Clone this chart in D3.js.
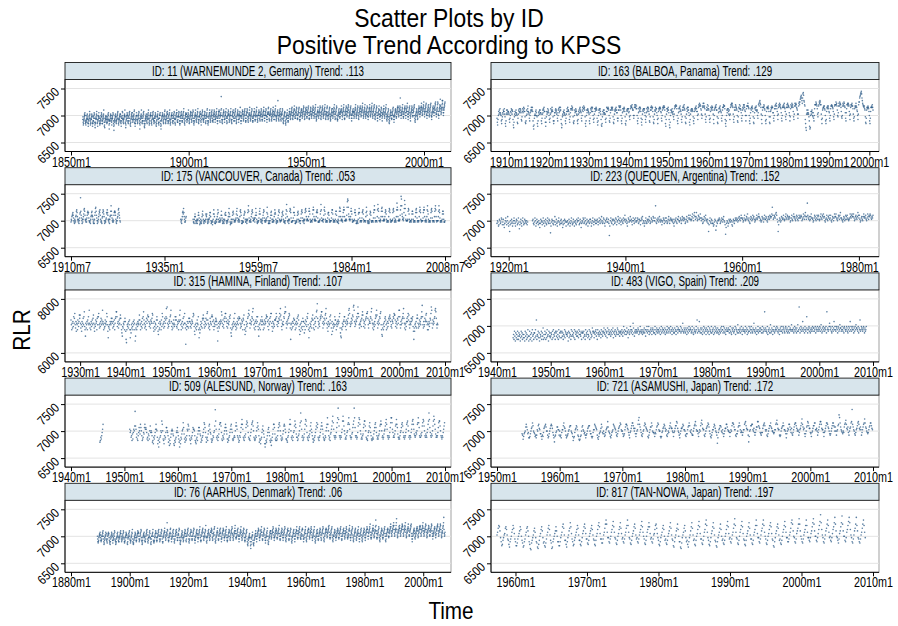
<!DOCTYPE html>
<html><head><meta charset="utf-8">
<script src="https://cdn.jsdelivr.net/npm/d3@7"></script>
<style>body{margin:0;background:#fff}</style>
</head><body><svg id="c" width="898" height="626"></svg>
<script>
// ---------------- DATA ----------------
const panelTitles = [
  "ID: 11 (WARNEMUNDE 2, Germany) Trend: .113",
  "ID: 163 (BALBOA, Panama) Trend: .129",
  "ID: 175 (VANCOUVER, Canada) Trend: .053",
  "ID: 223 (QUEQUEN, Argentina) Trend: .152",
  "ID: 315 (HAMINA, Finland) Trend: .107",
  "ID: 483 (VIGO, Spain) Trend: .209",
  "ID: 509 (ALESUND, Norway) Trend: .163",
  "ID: 721 (ASAMUSHI, Japan) Trend: .172",
  "ID: 76 (AARHUS, Denmark) Trend: .06",
  "ID: 817 (TAN-NOWA, Japan) Trend: .197"
];
const panelXTicks = [
  ["1850m1","1900m1","1950m1","2000m1"],
  ["1910m1","1920m1","1930m1","1940m1","1950m1","1960m1","1970m1","1980m1","1990m1","2000m1"],
  ["1910m7","1935m1","1959m7","1984m1","2008m7"],
  ["1920m1","1940m1","1960m1","1980m1"],
  ["1930m1","1940m1","1950m1","1960m1","1970m1","1980m1","1990m1","2000m1","2010m1"],
  ["1940m1","1950m1","1960m1","1970m1","1980m1","1990m1","2000m1","2010m1"],
  ["1940m1","1950m1","1960m1","1970m1","1980m1","1990m1","2000m1","2010m1"],
  ["1950m1","1960m1","1970m1","1980m1","1990m1","2000m1","2010m1"],
  ["1880m1","1900m1","1920m1","1940m1","1960m1","1980m1","2000m1"],
  ["1960m1","1970m1","1980m1","1990m1","2000m1","2010m1"]
];
const panelYTicks = [
  [6500,7000,7500],[6500,7000,7500],[6500,7000,7500],[6500,7000,7500],
  [6000,8000],[6500,7000,7500],[6500,7000,7500],[6500,7000,7500],
  [6500,7000,7500],[6500,7000,7500]
];
// monthly RLR values, one character per month: value = base + index(char)*step ('.' = missing)
const panelEncoding = [
  [6600,25],[6600,25],[6600,25],[6600,25],[6140,60],
  [6540,30],[6525,30],[6600,25],[6600,25],[6600,25]
];
const warnemunde = [[1855,1,"dfb9acdefhgi gcab9bdcegfh edba8acdfegj hec9abdedfhg fa8baccfegih eb97abedfehj gdab8cdfgeif cea9bacedgfi hfcaacedgfhk eb897bcedfge fdbacbdfehgi dc96acdcfehg gecb9defegih ca859bcdegfh fcbacdfeghij eda9bcedfghf hcba8cefegji debcadegfhgk fba79cdegfih gecbacfegihj ec9a8bdfehgi ifdbcdegfhjk dba8acedfgig gdcabdfehgji eca69bdfeghk febaccegfihj ca879acedfge hfcbadefhgik edb9acegfhgi gcab9dfegihj decabcefegih fb98acdfgfhj edab9beeghgi ca869cdfegih gfcbadfehgjk fdbacdegfihj hecabcfgehik dca9bdefghgi gebcacfehgji edba9degfhik ifcbbdfgfhji fca9acefgihj gecbcefhgijl edba9cegfhih hfdbcdfegihk fecabdegfhji igdbcefhgikj eca9bcefghik gfdcbegfhjil fdbacdfgfihj hecb9dfhgikj egdcbdegfhji gebacefghikl fca9bcfeghik ifdbcegfhjik geccbdfhgikj hfdbdegfihjl fecacefghjik jgecbfhgikul gdbcadfghikj ifdbdeghgjil fecabefgihkj hgdbcfehgijl gdcbadgfhjik ifecceghikjl fecabdfghikj hgdbdfehgjim gfcacegfihkj jhecdfghikjl gecbcehgijlk ifdcbefhgikm hgecdfgihjlk fecbcegfhjil jgdcdfhgikjm gfdbceghgikj igedcfhgijlk hfdcdfgihjkm jgeceghgjilk gfdbdfhihjlm ihedcgghjikl hfdcefhgikjm jhfddgihjkln gfdcefgihjkr igedcfhgikjl hfdceghihjlk edbacefghiji fca9bdfeghik gecbcegfhjil jhfdeghijlkm igedfgihjkln khfeegijikml hgedeghjiklm ifdcdfhgijkl kigefhijklnm jhfdegihjlkm kifefhjikmln igedegihjkml jhfeghjiklnm kigefihjlkmo hfecdfhgijkm jifeghikjlnm igedfhjikmln khfegihjlkmo jhedfgihjlmn igfdeghjiklm hfecdfhgikjl ligefhjikmlo jhfdehikjlnm gedcdfhgikjl ihfefhijkjln kigdfihjlkmo jgedegihkjln mjhfgijlkmon kifeghjikmln hgeceghjikjl jigefhjiklmo khfegihjlknm igedfhikjlmn ljhfgikjlnmp kigefhjikmlo jhfegihkjlnm igfdfhjilkmo ljgfhjikmlnp jhfegikjlnmo hgedfhjiklnm igecegihjlkn khfdfhgjikml igecfhihkjln ligefhjikmlo hfdcegfihjlk fdbacefhgikj igedegihjlkm gfdbdfhgikjl kifefhjikmln mjhfgikjlnmt kigeghjikmlo jhfefihjlkmn ligegikjlnmp jhfdfhjikmln igecfhijklnm kigfgikjlnmo gecbdfhgijlk igfdehjiklnm ljhfhjikmlnp mkighjlkmonq ljhfikjlnmop jhgegikjlnmo kigfhjlkmonp igfdfhjikmln ljigikmlnpoq kihfhjlkmoqp jhgegjlkmons nljhikmlorpr mkigilkmonpq"]];
const balboa = [[1907,1,"eb9dgjhkilih gcadfihkjjlh fa8chkikhjji hdbegjilkhkj d97bfhjgikih gbaehkjlijlk idcfjlikmjlj fbacgkhjlnji hecgikjmkkmj c869eghgjkig fa8cgijhkkii hcaehkilkmjj eb8bfjhiljki gdbehlikjmkj fcacgiikljkh iecgklimjkmk da79fhgjikih gcaehjljmkkj hdbfilklnlmk fbacgkijlkjh gcadhjkilmkj iecgkmjlnlmk fa8cgkiklkji hcaeilkmjlmj gdbehljlkmlk eb9cgkilkljh d98afjhkikih hdbejmjllmlk gcbeikkmllmk fbadhkjlkmki ieceknkmnmnk gcaeiljlkmlj fa9chkjlklli jfdglnmnmolk kgegmonmolnl gcaeiljmkmlj eb9dhkjllkli gdbfiljmkmlj hcbfkmknmlmj fbadhkjmklli gdaejlkmlmlj iecgkmlnmnmk fa8dhljlkmki d97bgkikjlih jfdhlnmnonnl gcaeiljmlnkj hdbfkmknmolk fbaehljmkmki gb9dhkjlklkj fcaejlkmlnlj jgdhmonpnonl khegnmpnpmnl hdbfkmkolnlk gdbejmklnmmk hdagklmnmokk fbaeiljmlnkj iecgkmmonnnl da8cgkilkljh kgdhmonpopnm hdbfkmkonmlk gcbfjmlolnlk iecgkmlonomk jgcglnnnpnml gcaeilkmmnlj fbaeilmkmnkj kgeiopnqrpom hdagkmmmonlk gcadjmlmmnlj fbafjkmlnmmi iecglnlonpnl jgdhmonpnoml iecgmnmonpml jfdhmomponnm igcflonmpnom jfdhnpnopoml khehnpqoqstu vtrptwxvrqon da75hkihkihf c867gjhjkigf iecgloooqpon lhfinoqprqoo hdaeklmmnnlk gcadjmlnmnlj iecglnnonnml jfdhnoooqopn kgfinpnqopom jfegnponqpnm ieciloopnpon jgdhmonopnnl hecflnmnpnmk jgdhoqqtuvwx ywtrponnmnlk fbaekmlmnmlj gcaejmmnmomk"]];
const vancouver = [
  [1910,7,"fhgjkl mkigfehgfjkn omjhgfhegilm xnkigehfhjlo pnkhgfhfikmn lmigffgehjkm nkjhfegehkmp qnkigegfhjln mokhfgfeijmo nljgefgfhiml omkhgfhehjkn rnkigfhfgkmn nmkhfeggijlo pmkigf"],
  [1939,4,"hfgehjmnlpmjhffgij"],
  [1942,7,"hffehj ljgefgheghkm kigdefhfegjl nkhfegggfhlk jlhfeghfhikm mjgeffgdfhlo ljfeegfhfhjl omhffgifghkn kigefhfeghlk mkgfeggfhjmp ljfdefhefhkm nlhfggfghiln pkigfhhgfjno mkgeefgffikl nmhffgheghmo rnifggfhfjln omigghhifikp mkhfefgfgiln plhfgfhegikm onigfgfhgimq ljgeefgegikm nkhffhgfgjlo mlhfegfgfikn omhgfggghjml nkhfgffegilo snjgfgheghnp omifffgggimq mkgeeffgfhkm nlhfgggegiln omigfgheghmo pnjghhhggjnp nlhffgggfhlo qojhgghggjmn omifffgfghln soiggghfhkoq nlhfgfggfilm mkhfgfgggimo olhfgfggfhln nkgfffhegjnq pnjghghgfjmo qojgghgghkqu wvqljhhghjnp nlhffgggghmo mkgeefgfehlm pmifgggfgimn olhfggggfjmq nkgfefgefhln mkgffgggfimo roifggggfjos pnigggfhgjnp qnjgghgghjmo nlhfgfggfjnp omhfgfggghmo pnifgfhgfjot qojgghgghkor ywrljhhgimpv spkhggggghnp olhffgggfhln nlhfgfggfjmo pmifgggfgjnq omhgfggggimo qojgfghgfjor nlhfgfggfimo pnigfgggfjnp rojgfggggjnr omifgfggfhln nlhfffg"]
];
const quequen = [
  [1918,1,"egfcdhgefihd fhdbegifdgje cf8dgehfcegi gecfhgdeifad fhecgifdehgf egdf"],
  [1924,2,"ghedfigcehf fdgebehfgdfi egcfhedgifeh ge7cfhgedgfj dfhecfgifdeg hefbdgehgfcf fgdehfcegifd ehfcfgedhfgi gdehfbegfihe figdehfcgfeh hfcegifdfhge eghfdfigehfj gefihecgfhif fhe5cgifehgd hgefihdfgjhe gifdghfeighk fhgecfihfgjg hfdgigehfigf gihefhgdgihj egfcegifehgf hjgefihfgjig girfehgifhjg fhgdfgihegif igefhjgehigh gfhecfhgifeh hjgfgihegjhi gihefhjgfikh ikhghjligkmj hjmighkjhili gihefhjgikhg fhe8dgifehge ecdfhg9cfegh gihefgihfhjg fd6begfcehgf hfgdcfhgegih gihfgijhgiki ihfgikhghjil hgifehjighki jhfghikhijlj ighfgjihfikh hjigfhjihkji jlqkhikjilmk hf8dgihfgjih ikhghjlihkji hjifgikhgjli jhgikjhgikij ikjghiljhkmj hjtkihjghjli ihfgikjhgikh jkhghjlihkjl ijgfhikhgjik hikgfhjigilj jlihgikjhkmi ihgfhjighkjh kihghiljiklj jlighjkihjmk ikhfgijhgjli jikhgiljhkjl kihjik"]
];
const hamina = [[1928,1,"ifcgdhekgjmf dhbgfcigehlj lgdfbhegjfkn ec8gdfhcigkf ogdfchegifjl gdbfeighcjfk kmfdgehjfigo hfcgdeigfhmk fb7edfchgfjh jgdheficgjkn nkeghdfigjlj fca8edgfhcjh b64cfegdhfic 7cafdgechfig c58dfcgehfgi lifcgehdjfkn igdfehcjgilk khegfdihgjml gdbhecgfdiki eb9gcdhfgcie mkfgdhejgikp jqgdfehigklo hecgdfigefki kiedfhgcihlo ifcgehdjfkgm gd3fcehegdjh jhegdfihgkml eb9fdgceigfk c7dacfhegdji ljfdhegjfimn igdfecjhgfkl kheicgefhjih fd5bgedhfgih nlgeifdjhkmm jhegdigfhkjl da8cfdgehjfm gecfdhgjfikj jgdfeighcjil fc9dbhfegjkm olgdigfhkjnp ifdgcheigkhk ec8fdgcihfki hfcgdifhgjlk kheicgfjhkmm gebhdgfeiiij mkfhehgjimkp liecgfhfkjmn qngdhfigjkml gd6fcgdhegji ifcgdhfjgkli ec9fbgdhecjh heagcifhekjm fc7dbgefhdji lidfcjghekno sjdhfgeikjln nkgdhfjgilmp jgdfbhegfkil gd9hbfdgefki ifcgehfighkm da87dcgefhik khegcifhgjlo pmgefhjgilkq rohegfihkjmq mkfdgfhiejln lieghdfijkmm njfdighgkjnp igdfcgehfjlk olgdhfigkjmn fc98dfcgehjk ifcgdhegjikl jhefdihgkjml lieghdfjigko okfdhfigjkmp jgdfcgehjhkm ilfdhgfjhjik eb6dbfgehdjl jgdfeighfjkn rkfdhefjhilm hfcgcfhegjim qogdifhgjkop njfdgf"]];
const vigo = [[1943,1,"8a7c96b8a7c9 7b9a68c9b7a8 a86c9b7a8d96 9c7a8b6d9a7b b8d9j7a9c8b6 8a9c7b9e7a8c a7b8d9a6c9b8 9ba7c8da9b7c b9c8a7d9b8cb 8c9b7a9d8cba a9b6c8b9a7d9 ca9b8d7cab9c 9b8daca9b7cb b8c9a7d9bac8 a9d7cb8a9ecb c8bacd9b7dab 9cab8dac9bce bad9cb8ecadb ac9bdace8bca d9cbaedacb9c bcadb9cfbdac caebc8dbacfd bdcaheb9cdbc dbcedacbfcdb cadbcebd9dcf bdcfacbdecad ecbdbfadcebd cdbecadfbced dbceadbcfdbe cedbfcdaecdb becdacfdbedc dcfbecdhcbed cbedacebdfcd edbcfdbaecdb cfdjbecdicbe dbeacdfbecda ecdbfcaedcbf bdceadbfcedb cebdacdbecfd dbfcebdacedc cedbdfcbaedc ebcdfaedcbgd bdcebdfcadec dcbfdceadbcf cedbfdcbedhc dbecadcfbdce cedbdfbcedoc edcbfadcebdg bcedacdfbcde dfcebdcadecf cdbfedcbefdc ebdcfbdedcgd dcebdfcedbec gcdrebdfcedi cedbfdceldbe dfcebdcedfce ecdfbedcfdec dfecgdbecfde cedfbodecdfh fdecbfdceidf dcfedbfecdge ecdfdcebfedc dfecbdfecidf cedfdbecfdge edcfbedjcdfe dcefdbecdf"]];
const alesund = [
  [1945,6,"9acbdfhk"],
  [1951,1,"hfgcdaebfhgj sjhcebadfige kigdabcfeikh ihfbcaedbgjf gfd9a8cbdfhk hgc8a6b9cdgf mkgba8dbcfii gfd9b7a8cegh ged87a9bcfgi fdb96a8cbegh lieb9cabdhgk jhdba8cbdfih hgda98bcaegi iged9bacdfhl kifc9bcaegjk hfeb9abdcfgj tmhcbdacehkl ljfbadcbegik igeb9bacdfhj khfbabcdcgjl jhdcb9adcfik nkhcbadceikm ljfcbbadfhkl mjgcbabdcgil jhd9ba8bcfhj gec868a9bdfh ifda9b7acehk kiebacabdgik ljgdbacbegjk jhfbba9cdfhk nkgcbdacfgjm kieccabdegjl rmhcdabcehkn mjfcbadcegjl hfdb9bacdfhj likcbacdfhjl jhecbabdcgik okgdbcaefhjm plhdcbdcfilo unjdcbdcfhmp mjgebcbdfgkl okhdcbcefikm uoidcdbcfjlo nkgebcbdeikm mjgcbbadfgjl ifdbabcbegik lifdbcbdegjk mkgcdbceghjl nkhdcbdcfilo olhfcdcegjkn kiecbcbdfgik ljfcdbcdfhkl mjgcdbdcfhkm nkhedcdfegkl olidccedfjln mjgdcedcfhkm rnifdcedgjmp nkhecdcdfilm mjgdcbdcfhjl"]
];
const asamushi = [[1954,1,"edacefgjljhe fbbcegijmkgf ecdbdhgklihe ecadcfijkljg gdbcegiklkif db8cdfgjjhhd gcdbfhhkmjig dbcdeghjkkgf ec9bcfhikjhd ca9acdgjkhge fdbdegijkkge ecbcfhhlkjih dbacefgiljfe gecdfhijnjgf ecbdfghlkjih fdcegijkmlhg gecdehjllkih fdbfgikmmkig ieceghloqljh fdceghkmljih gcbdfhjjmkgf fecfehjkmlhg gcbcfgijlkig hdcegfikmjii gfcfgikknmig fdbegiijlkhh gdceehjkmkgf heddgiklnkhg gecfhgkmolih hdcegijkmljg ecbdfhhjlkig fd7bfhikkjgf hecegiilljhg gfcfhgkmmljh hdceegjkmkhf gfdfhhlmnkih hd8cghkkllhg ifdfhjjnnkji fedffiklmkhg hdcegikkmjig gfefhhlmolih hdcdgijkmkhh gebegihlljhf iedfhjlmmkig hgdfhikmpljh iecegjknmkii fecfgikkmmhh igdfhjlnnlih hfcfgikmmlji gedegikmmkjg jgdghklsqmjh gfegfjlmolih jfdgijmnwljh gedfhikmnlih jhdfhjlmpmji gfefhjkmmkih"]];
const aarhus = [[1889,1,"gecbcdfghihj hfdcdeghgjik egcabdfehgjh iedcbeghijhi fdbcacegfhji hgdbdfehigkj edcabcefgihj gfdccegfhjik igecdfehgikj fecbcdfghjih hfbacegfihjk gedbcdfhgjil ecbabdegfhji hfdcdfghikji jgecdegihjlk fdcabdfghihj gfdcceghikjl hecbdffhgjki febacegghijl gdcbcdfhgikj ifdcdfgihkjl hgecdeghjilk gecbcfhgijkm jhfdeghjiqlk hfdcdfgihjlm igecefhgjkil gecbdeghikjl jhfddfhihkml fdbacdfghikj hfecdfghjilk igdceghijlkm hecbdegihjlk jgedeghjikml gedbdfghjikl ihfcefhikjln hfdcdghjiklm jgedfgihjlko gfcbdfgihkjl ihfdeghjkjml kifdegihjlmn hecbdfghjikm jhedeghikljm igecefhjikml khfdfgihkjln hfdcdfhgjilk jgedfhikjlnm ihfdeghjikmo kifefgihkljm hgeceghjilkn jhfdegihkjml ifdcdfhgikjl eca9bdfeghif fc97acefghjh dba9bdefhgik igeceghjikml khfdfgihkljn jhedeghjikml hfdbdfhgjikm gdbacegfhjik kigefhikjlnm jhfdfgihkjml kifefhjikmlo igedeghjikml jhfdfhikjlnm hfdceghijlkm khedegihkjml gecbdfghjikl igeceghjilkn kifefhikjmln jhfeegihklml hgecefhjikln ifdceghikjlm ljgefhikjmnl jhfdfgihkjln gecbdfhgikjl igedeghjikml jhfdehijklnm ifdceghijlkm ljhfgijklnmo jhfefhikjlmn hfdceghgjilk jhfdfgihkjml kifefhjikmln igedeghjilkm kigefhikjmnl jhfefgihklmo khfdfhjiklnm hfdceghjiklm jgedfhihkjln igecegihjlkm hfdceghijkml jhfdfhikjlnm ljgegijklnmp jhfefhjikmlo mkhfgijlknso kifefhikjlnm hfdceghjikml khfefhjikmln igdcegihjlkm ljgfgikjlnmp nkighjkmlonq olighjlkmoqt ljhfgikjlnmo mkighjkmlnpo nlighjlkmonq ljhfgikjmlnp mkhghjklmonp igecegihjklm kifeghjikmln mkhfgikjlnmo nlighjlkmonq mkighjkmlnpo ljhfgikjlmon mkhghjlkmnpo kigeghjikmln mjhfhiklmnop nkighjkmlnpo ljhfgikjmnoq ulighj"]];
const tannowa = [[1957,6,"hjmonkf c9adfhimnlhe da8cegjlomie c99begiknlgd b89cehjmnkgc a76bdfhkmjfc b87adgilnkfb c98behjmolhd b78cegiknkgc c99cfhjnpmhd da8cfhkmqnie c9adfhjlomhd da9cfiknpmie ebadgikmolhe da9dgiloqnie ebbehjmpspjf fcbegjlornjf ebadgilnqmie fcbehjmosojf ebadgiknpmhe fcbehjlornjg ebadgjlnqnie fcbehilopmif da9cfhjmolgd ebadgiknqmhe d98cfhkmplgc c87bfhjmokfc da8cfhknqmhd ea9dgilornie ebadgjlpsojf da9cfiknqmhd c98cfhjmplgd ebadgilornie fcbehjmptojf ebadgjlornie da9dgiknqmhe ebadhjlosoif fcbehkmpsojg ebadgiloqnie d98cfiknpmhd ebadgjlornjf fccehjmqspkg fcbeikmptpkg ecbehjlosojf fdcfiknqtpkg gdcfilorwqlh fcbehkmpsojf gdcfilnqupkg fdbeiknqvpkg gdcfjloruqlh fcbehkmpuokf ecbehjmpsojf"]];
const panelSeries = [warnemunde, balboa, vancouver, quequen, hamina, vigo, alesund, asamushi, aarhus, tannowa];

// ---------------- DRAW ----------------
const CODE = "0123456789abcdefghijklmnopqrstuvwxyz";
const FONT = '"Liberation Sans", Arial, Helvetica, sans-serif';
const svg = d3.select("#c");
svg.append("rect").attr("width",898).attr("height",626).attr("fill","#fff");

function txt(g, s, x, y, size, sx, anchor, rot) {
  return g.append("text")
    .attr("transform", `translate(${x},${y})` + (rot ? ` rotate(${rot})` : "") + ` scale(${sx},1)`)
    .attr("text-anchor", anchor || "middle")
    .attr("font-family", FONT).attr("font-size", size).attr("fill", "#000").text(s);
}
txt(svg, "Scatter Plots by ID", 449, 27, 26, 0.88);
txt(svg, "Positive Trend According to KPSS", 449, 54, 26, 0.88);
txt(svg, "RLR", 30, 330, 23, 0.9, "middle", -90);
txt(svg, "Time", 451, 619, 23, 0.9);

const colX = [[65, 451], [491, 879]];
const rowTop0 = 62.5, rowStep = 105.2, headH = 17, plotH = 72, padX = 6, padY = 9;
const parseTick = s => { const [y, m] = s.split("m").map(Number); return y + (m - 1) / 12; };

panelSeries.forEach((segs, i) => {
  const col = i % 2, row = Math.floor(i / 2);
  const [x0, x1] = colX[col];
  const top = rowTop0 + row * rowStep, pTop = top + headH, pBot = pTop + plotH;
  const [base, step] = panelEncoding[i];
  const pts = [];
  segs.forEach(([yr, mo, str]) => {
    let t = yr + (mo - 1) / 12;
    for (const ch of str.replace(/\s/g, "")) {
      if (ch !== ".") pts.push({ t, v: base + CODE.indexOf(ch) * step });
      t += 1 / 12;
    }
  });
  const ticks = panelXTicks[i].map(parseTick);
  const tmin = Math.min(d3.min(pts, d => d.t), ticks[0]);
  const tmax = Math.max(d3.max(pts, d => d.t), ticks[ticks.length - 1]);
  const x = d3.scaleLinear().domain([tmin, tmax]).range([x0 + padX, x1 - padX]);
  const yt = panelYTicks[i];
  const y = d3.scaleLinear().domain([yt[0], yt[yt.length - 1]]).range([pBot - padY, pTop + padY]);

  const g = svg.append("g");
  g.append("rect").attr("x", x0).attr("y", pTop).attr("width", x1 - x0).attr("height", plotH)
    .attr("fill", "#fff").attr("stroke", "#8a8a8a").attr("stroke-width", 0.8);
  g.selectAll("line.grid").data(yt).join("line").attr("class", "grid")
    .attr("x1", x0).attr("x2", x1).attr("y1", d => y(d)).attr("y2", d => y(d))
    .attr("stroke", "#e3e3e3").attr("stroke-width", 1);
  g.append("g").selectAll("circle").data(pts).join("circle")
    .attr("cx", d => x(d.t)).attr("cy", d => y(d.v)).attr("r", 0.8)
    .attr("fill", "#2a5a87").attr("fill-opacity", 0.78);
  g.append("rect").attr("x", x0).attr("y", top).attr("width", x1 - x0).attr("height", headH)
    .attr("fill", "#d8e5ec").attr("stroke", "#1a1a1a").attr("stroke-width", 0.9);
  txt(g, panelTitles[i], (x0 + x1) / 2, top + 13.3, 14, 0.7);
  const gx = g.append("g").attr("transform", `translate(0,${pBot})`)
    .call(d3.axisBottom(x).tickValues(ticks).tickFormat((d, j) => panelXTicks[i][j]).tickSize(4).tickSizeOuter(0));
  gx.select(".domain").remove();
  gx.selectAll(".tick line").attr("stroke", "#000");
  gx.selectAll(".tick text").attr("font-family", FONT).attr("font-size", 14).attr("fill", "#000")
    .attr("y", 0).attr("dy", 0).attr("transform", "translate(0,15) scale(0.77,1)");
  g.append("line").attr("x1", x0).attr("x2", x1).attr("y1", pBot).attr("y2", pBot).attr("stroke", "#000").attr("stroke-width", 1);
  const gy = g.append("g").attr("transform", `translate(${x0},0)`)
    .call(d3.axisLeft(y).tickValues(yt).tickFormat(d3.format("d")).tickSize(4).tickSizeOuter(0));
  gy.select(".domain").remove();
  gy.selectAll(".tick line").attr("stroke", "#000");
  gy.selectAll(".tick text").attr("font-family", FONT).attr("font-size", 13).attr("fill", "#000")
    .attr("x", 0).attr("dy", 0).attr("text-anchor", "end").attr("transform", "translate(-5,4) rotate(-45) scale(0.85,1)");
  g.append("line").attr("x1", x0).attr("x2", x0).attr("y1", pTop).attr("y2", pBot).attr("stroke", "#000").attr("stroke-width", 1);
});
</script>
</body></html>
